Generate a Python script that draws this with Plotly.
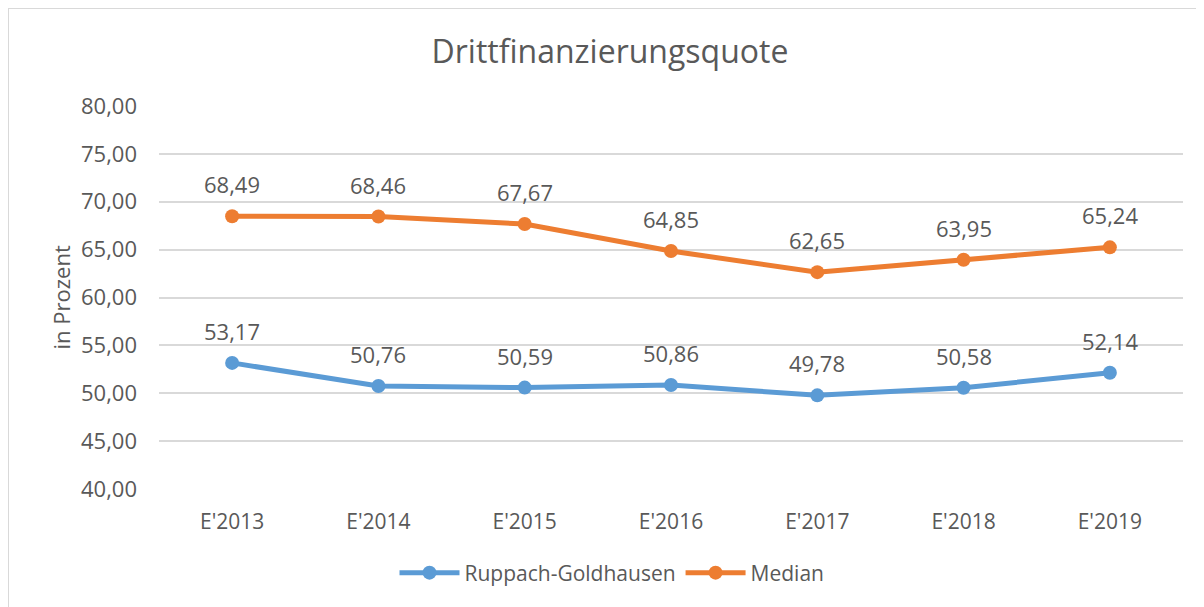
import plotly.graph_objects as go

categories = ["E'2013", "E'2014", "E'2015", "E'2016", "E'2017", "E'2018", "E'2019"]
ruppach = [53.17, 50.76, 50.59, 50.86, 49.78, 50.58, 52.14]
median = [68.49, 68.46, 67.67, 64.85, 62.65, 63.95, 65.24]
y_ticks = [40, 45, 50, 55, 60, 65, 70, 75, 80]

BLUE = "#5B9BD5"
ORANGE = "#ED7D31"
TXT = "#595959"
FONT = "Open Sans"

# page body adds an 8px offset; compensate in layout
OFF = 8
W, H = 1204 - OFF, 607 - OFF
L, T = 159 - OFF, 106 - OFF
PW = 1183 - 159
PH = 489 - 106

fig = go.Figure()
for name, vals, col in [("Ruppach-Goldhausen", ruppach, BLUE), ("Median", median, ORANGE)]:
    fig.add_trace(go.Scatter(
        x=categories, y=vals, name=name, mode="lines+markers",
        line=dict(color=col, width=5), marker=dict(color=col, size=14),
        hoverinfo="skip"))

annotations = []
for vals in (ruppach, median):
    for c, v in zip(categories, vals):
        annotations.append(dict(
            x=c, y=v, xref="x", yref="y", text=f"{v:.2f}".replace(".", ","),
            showarrow=False, yshift=32, font=dict(family=FONT, size=22, color=TXT)))

annotations.append(dict(
    x=(60 - 159) / PW, y=0.5, xref="paper", yref="paper", text="in Prozent",
    textangle=-90, showarrow=False, xanchor="center", yanchor="middle",
    font=dict(family=FONT, size=22, color=TXT)))

fig.update_layout(
    width=W, height=H,
    margin=dict(l=L, r=W - L - PW, t=T, b=H - T - PH, pad=0),
    paper_bgcolor="white", plot_bgcolor="white",
    separators=",.",
    font=dict(family=FONT, color=TXT),
    title=dict(text="Drittfinanzierungsquote", x=(610 - OFF) / W, xref="container",
               xanchor="center", y=1 - (52 - OFF) / H, yref="container",
               yanchor="middle", font=dict(family=FONT, size=32, color=TXT)),
    xaxis=dict(type="category", range=[-0.5, 6.5], showgrid=False, showline=False,
               zeroline=False, ticks="", tickfont=dict(family=FONT, size=21, color=TXT),
               ticklabelstandoff=18),
    yaxis=dict(range=[40, 80], tickvals=y_ticks, tickformat=".2f", showgrid=True,
               gridcolor="#D9D9D9", gridwidth=2, zeroline=False, showline=False, ticks="",
               tickfont=dict(family=FONT, size=22, color=TXT), ticklabelstandoff=21),
    legend=dict(orientation="h", x=(612 - 159) / PW, xanchor="center",
                y=(489 - 573) / PH, yanchor="middle",
                font=dict(family=FONT, size=21, color=TXT), itemwidth=60),
    annotations=annotations,
    shapes=[dict(type="rect", xref="paper", yref="paper",
                 x0=(8 - 159) / PW, x1=1.2, y0=-0.6, y1=(489 - 8) / PH,
                 line=dict(color="#D9D9D9", width=2), fillcolor="rgba(0,0,0,0)", layer="below")],
)

fig.write_html("out.html")
